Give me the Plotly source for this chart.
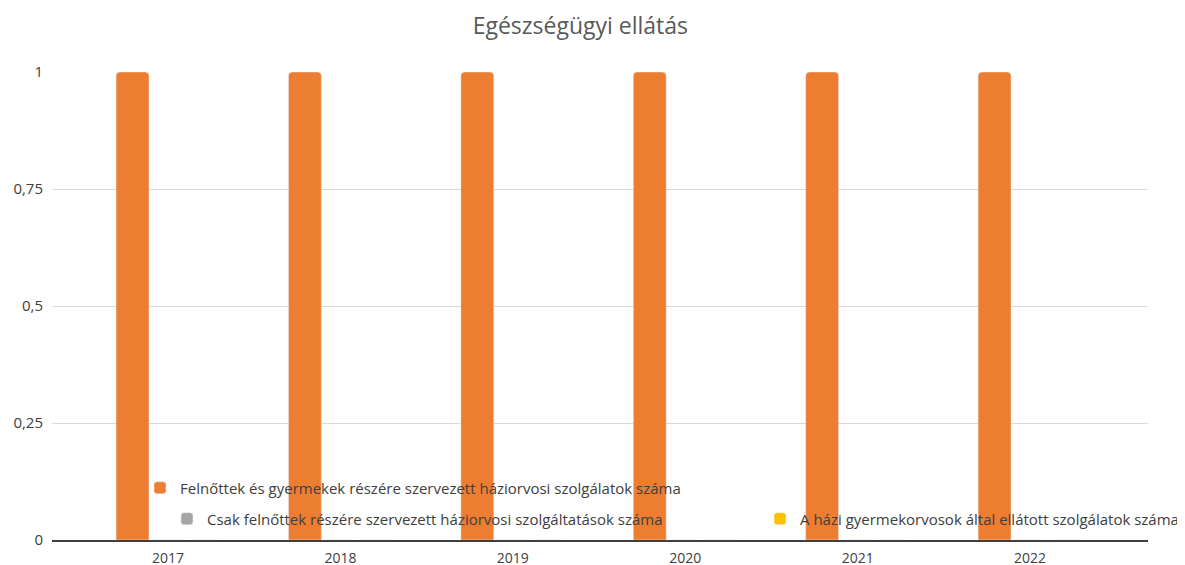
import plotly.graph_objects as go

years = ["2017", "2018", "2019", "2020", "2021", "2022"]
series_names = [
    "Felnőttek és gyermekek részére szervezett háziorvosi szolgálatok száma",
    "Csak felnőttek részére szervezett háziorvosi szolgáltatások száma",
    "A házi gyermekorvosok által ellátott szolgálatok száma",
]
felnott_gyermek = [1, 1, 1, 1, 1, 1]
csak_felnott = [0, 0, 0, 0, 0, 0]
hazi_gyermek = [0, 0, 0, 0, 0, 0]
colors = ["#ED7D31", "#A5A5A5", "#FFC000"]
y_ticks = [0, 0.25, 0.5, 0.75, 1]

font_family = "Open Sans, DejaVu Sans, sans-serif"

fig = go.Figure()
for name, vals, col, lg in zip(series_names, [felnott_gyermek, csak_felnott, hazi_gyermek], colors,
                               ["legend", "legend2", "legend3"]):
    fig.add_trace(go.Bar(x=years, y=vals, name=name, marker=dict(color=col, cornerradius=4),
                         legend=lg))

leg_common = dict(orientation="v", xanchor="left", yanchor="middle", bgcolor="rgba(0,0,0,0)",
                  font=dict(family=font_family, size=15, color="#404040"))

fig.update_layout(
    width=1185, height=565,
    paper_bgcolor="white", plot_bgcolor="white",
    separators=", ",
    margin=dict(l=44, r=45, t=64, b=33, autoexpand=False),
    title=dict(text="Egészségügyi ellátás", x=0.483, xanchor="center", y=0.968, yanchor="middle",
               font=dict(family=font_family, size=23, color="#595959")),
    barmode="group", bargap=0.382, bargroupgap=0.073,
    showlegend=True,
    legend=dict(x=0.0803, y=0.111, **leg_common),
    legend2=dict(x=0.1049, y=0.045, **leg_common),
    legend3=dict(x=0.646, y=0.045, **leg_common),
    xaxis=dict(type="category", range=[-0.673, 5.684], showgrid=False, ticks="", automargin=False,
               showline=True, linecolor="#404040", linewidth=2, ticklabelstandoff=4,
               tickfont=dict(family=font_family, size=14, color="#404040")),
    yaxis=dict(range=[0, 1], tickvals=y_ticks, showgrid=True, gridcolor="#D9D9D9", gridwidth=1,
               zeroline=False, showline=False, ticks="", ticklabelstandoff=8, automargin=False,
               tickfont=dict(family=font_family, size=15, color="#404040")),
)

fig.write_html("out.html")
